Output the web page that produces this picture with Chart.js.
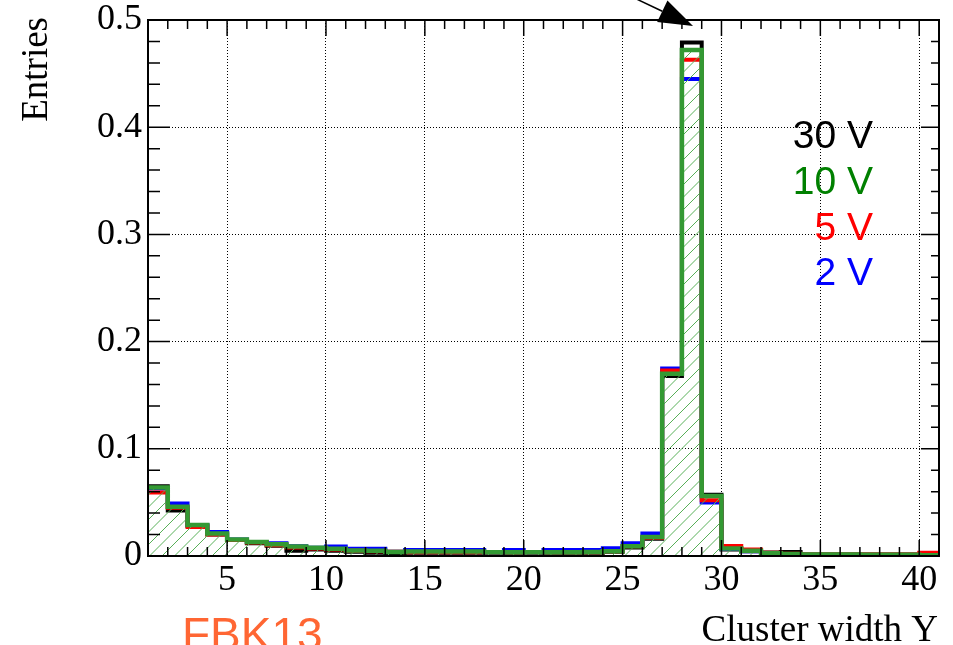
<!DOCTYPE html>
<html>
<head>
<meta charset="utf-8">
<script src="https://cdn.jsdelivr.net/npm/chart.js@4.4.1/dist/chart.umd.min.js"></script>
<style>
  html, body { margin: 0; padding: 0; background: #fff; }
  #wrap { width: 953px; height: 645px; }
</style>
</head>
<body>
<div id="wrap"><canvas id="clusterChart" width="953" height="645"></canvas></div>
<script>
// lower edge of every bin (width 1), last bin closes at 41
const binEdges = [1, 2, 3, 4, 5, 6, 7, 8, 9, 10, 11, 12, 13, 14, 15, 16, 17, 18, 19, 20,
  21, 22, 23, 24, 25, 26, 27, 28, 29, 30, 31, 32, 33, 34, 35, 36, 37, 38, 39, 40];
const lastEdge = 41;

const v30 = [0.065, 0.0425, 0.028, 0.020, 0.015, 0.012, 0.0095, 0.005, 0.006, 0.005,
  0.004, 0.003, 0.0013, 0.003, 0.003, 0.003, 0.003, 0.003, 0.003, 0.003,
  0.003, 0.003, 0.003, 0.004, 0.008, 0.016, 0.168, 0.479, 0.0572, 0.006,
  0.0045, 0.0033, 0.0037, 0.0015, 0.0015, 0.0015, 0.0015, 0.0015, 0.0015, 0.0015];
const v10 = [0.064, 0.046, 0.029, 0.021, 0.0155, 0.013, 0.011, 0.0088, 0.0077, 0.0068,
  0.0052, 0.005, 0.0038, 0.0042, 0.0042, 0.0042, 0.0042, 0.0036, 0.0036, 0.0036,
  0.0036, 0.0036, 0.0037, 0.0045, 0.009, 0.0178, 0.170, 0.472, 0.056, 0.0069,
  0.005, 0.0025, 0.0018, 0.0015, 0.0015, 0.0013, 0.0012, 0.0012, 0.0011, 0.0008];
const v5 = [0.0593, 0.045, 0.027, 0.020, 0.015, 0.0125, 0.010, 0.008, 0.007, 0.006,
  0.005, 0.0045, 0.004, 0.0035, 0.0035, 0.0035, 0.0035, 0.0035, 0.0035, 0.0035,
  0.0035, 0.0035, 0.0035, 0.0045, 0.009, 0.017, 0.173, 0.463, 0.052, 0.0094,
  0.006, 0.003, 0.002, 0.0015, 0.0015, 0.0015, 0.0015, 0.0015, 0.0015, 0.003];
const v2 = [0.063, 0.049, 0.029, 0.0225, 0.0155, 0.013, 0.012, 0.009, 0.0078, 0.0088,
  0.0068, 0.0068, 0.004, 0.0055, 0.0055, 0.0055, 0.0055, 0.0035, 0.0055, 0.0035,
  0.0055, 0.0055, 0.0055, 0.0072, 0.012, 0.021, 0.175, 0.445, 0.050, 0.0065,
  0.0045, 0.002, 0.0015, 0.001, 0.001, 0.001, 0.001, 0.001, 0.001, 0.001];

const seriesNames = ['30 V', '10 V', '5 V', '2 V'];
const lineColors = ['#000000', '#339933', '#ff0000', '#0000ff'];
const textColors = ['#000000', '#008000', '#ff0000', '#0000ff'];

const xTicks = [5, 10, 15, 20, 25, 30, 35, 40];
const yTicks = [0, 0.1, 0.2, 0.3, 0.4, 0.5];

// arrow pointing at the peak bin (data coordinates)
const arrowFrom = { x: 25.2, y: 0.524 };
const arrowTo = { x: 28.56, y: 0.4945 };

const serif = "'Liberation Serif', 'Times New Roman', serif";
const sans = "'Liberation Sans', Arial, sans-serif";

const toSteps = (values) => binEdges.map((x, i) => ({ x, y: values[i] }))
  .concat([{ x: lastEdge, y: values[values.length - 1] }]);

const ctx = document.getElementById('clusterChart').getContext('2d');

const lineSet = (label, values, color, order, extra) => Object.assign({
  label,
  data: toSteps(values),
  borderColor: color,
  borderWidth: 4,
  stepped: true,
  pointRadius: 0,
  fill: false,
  order,
  borderJoinStyle: 'miter'
}, extra || {});

// hatched area under the 10 V histogram, drawn just before its line
const hatchFill = {
  id: 'hatchFill',
  beforeDatasetDraw(chart, args) {
    if (!chart.data.datasets[args.index].hatch) return;
    const c = chart.ctx;
    const a = chart.chartArea;
    const pts = args.meta.data;
    const base = chart.scales.y.getPixelForValue(0);
    c.save();
    c.beginPath();
    c.rect(a.left, a.top, a.right - a.left, a.bottom - a.top);
    c.clip();
    c.beginPath();
    c.moveTo(pts[0].x, base);
    pts.forEach((p, i) => {
      if (i > 0) c.lineTo(p.x, pts[i - 1].y);
      c.lineTo(p.x, p.y);
    });
    c.lineTo(pts[pts.length - 1].x, base);
    c.closePath();
    c.clip();
    c.strokeStyle = '#58b058';
    c.lineWidth = 1;
    c.beginPath();
    const h = a.bottom - a.top;
    for (let x = a.left - h; x < a.right + 12; x += 12.5) {
      c.moveTo(x, a.bottom);
      c.lineTo(x + h, a.top);
    }
    c.stroke();
    c.restore();
  }
};

const frameAndText = {
  id: 'frameAndText',
  afterDraw(chart) {
    const c = chart.ctx;
    const a = chart.chartArea;
    const xs = chart.scales.x;
    const ys = chart.scales.y;
    c.save();

    // inward ticks on all four sides
    c.strokeStyle = '#000';
    c.lineWidth = 1.5;
    c.beginPath();
    for (let v = 2; v <= 40; v++) {
      const px = xs.getPixelForValue(v);
      const len = v % 5 === 0 ? 16 : 9;
      c.moveTo(px, a.bottom); c.lineTo(px, a.bottom - len);
      c.moveTo(px, a.top); c.lineTo(px, a.top + len);
    }
    for (let k = 1; k < 25; k++) {
      const py = ys.getPixelForValue(k * 0.02);
      const len = k % 5 === 0 ? 22 : 12;
      c.moveTo(a.left, py); c.lineTo(a.left + len, py);
      c.moveTo(a.right, py); c.lineTo(a.right - len + 4, py);
    }
    c.stroke();

    // frame
    c.lineWidth = 2;
    c.strokeRect(a.left, a.top, a.right - a.left, a.bottom - a.top);

    // axis titles
    c.fillStyle = '#000';
    c.font = '37px ' + serif;
    c.textAlign = 'right';
    c.textBaseline = 'alphabetic';
    c.fillText('Cluster width Y', 938, 641);
    c.save();
    c.translate(47, 17);
    c.rotate(-Math.PI / 2);
    c.fillText('Entries', 0, 0);
    c.restore();

    // legend
    c.font = '39px ' + sans;
    c.textAlign = 'right';
    const baselines = [148, 194, 240, 285];
    seriesNames.forEach((name, i) => {
      c.fillStyle = textColors[i];
      c.fillText(name, 873, baselines[i]);
    });

    // detector label
    c.font = '46px ' + sans;
    c.textAlign = 'left';
    c.fillStyle = '#ff6633';
    c.fillText('FBK13', 182, 650);

    // arrow
    const x0 = xs.getPixelForValue(arrowFrom.x), y0 = ys.getPixelForValue(arrowFrom.y);
    const x1 = xs.getPixelForValue(arrowTo.x), y1 = ys.getPixelForValue(arrowTo.y);
    const ang = Math.atan2(y1 - y0, x1 - x0);
    const hl = 34, hw = 12;
    const bx = x1 - hl * Math.cos(ang), by = y1 - hl * Math.sin(ang);
    c.strokeStyle = '#000';
    c.lineWidth = 1.5;
    c.beginPath();
    c.moveTo(x0, y0); c.lineTo(bx, by);
    c.stroke();
    c.fillStyle = '#000';
    c.beginPath();
    c.moveTo(x1, y1);
    c.lineTo(bx - hw * Math.sin(ang), by + hw * Math.cos(ang));
    c.lineTo(bx + hw * Math.sin(ang), by - hw * Math.cos(ang));
    c.closePath();
    c.fill();

    c.restore();
  }
};

const clusterChart = new Chart(ctx, {
  type: 'line',
  data: {
    datasets: [
      lineSet(seriesNames[1], v10, lineColors[1], 0, { hatch: true, borderWidth: 4.5 }),
      lineSet(seriesNames[2], v5, lineColors[2], 1),
      lineSet(seriesNames[3], v2, lineColors[3], 2),
      lineSet(seriesNames[0], v30, lineColors[0], 3)
    ]
  },
  options: {
    responsive: false,
    animation: false,
    layout: { padding: { left: 0, top: 20, right: 14, bottom: 0 } },
    plugins: {
      legend: { display: false },
      tooltip: { enabled: false }
    },
    scales: {
      x: {
        type: 'linear',
        min: 1,
        max: 41,
        afterBuildTicks: (scale) => { scale.ticks = xTicks.map(v => ({ value: v })); },
        afterFit: (scale) => {
          scale.height = 89;
          scale.paddingLeft = 0;
          scale.paddingRight = 0;
        },
        border: { display: false, dash: [1, 2] },
        grid: { color: '#000', lineWidth: 1, drawTicks: false },
        ticks: {
          autoSkip: false,
          maxRotation: 0,
          padding: 3,
          color: '#000',
          font: { family: serif, size: 36 }
        }
      },
      y: {
        type: 'linear',
        min: 0,
        max: 0.5,
        afterBuildTicks: (scale) => { scale.ticks = yTicks.map(v => ({ value: v })); },
        afterFit: (scale) => {
          scale.width = 148;
          scale.paddingTop = 0;
          scale.paddingBottom = 0;
        },
        border: { display: false, dash: [1, 2] },
        grid: { color: '#000', lineWidth: 1, drawTicks: false },
        ticks: {
          autoSkip: false,
          padding: 6,
          color: '#000',
          font: { family: serif, size: 36 }
        }
      }
    }
  },
  plugins: [hatchFill, frameAndText]
});
</script>
</body>
</html>
